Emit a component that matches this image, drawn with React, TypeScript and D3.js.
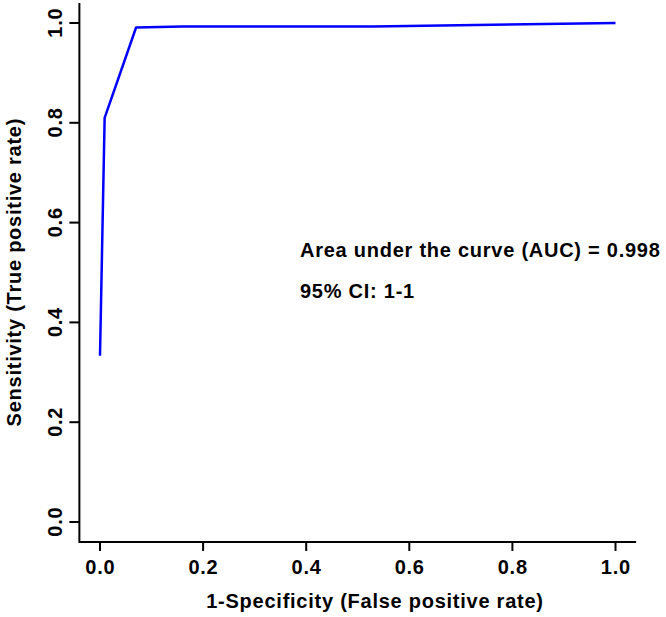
import React from "react";
import * as d3 from "d3";

const fprValues = [0, 0.009, 0.07, 0.16, 0.53, 1];
const tprValues = [0.333, 0.81, 0.991, 0.993, 0.993, 1];
const tickValues = [0, 0.2, 0.4, 0.6, 0.8, 1.0];
const aucLabel = "Area under the curve (AUC) = 0.998";
const ciLabel = "95% CI: 1-1";
const xTitle = "1-Specificity (False positive rate)";
const yTitle = "Sensitivity (True positive rate)";

const W = 666;
const H = 617;
const FONT = "'Liberation Sans', Arial, Helvetica, sans-serif";
const FS = 20;
const LS = 0.75;

export default function App() {
  const x = d3.scaleLinear().domain([0, 1]).range([100, 615.5]);
  const y = d3.scaleLinear().domain([0, 1]).range([522, 23]);
  const pts = fprValues.map((f, i) => [f, tprValues[i]] as [number, number]);
  const line = d3
    .line<[number, number]>()
    .x((d) => x(d[0]))
    .y((d) => y(d[1]));

  const x0 = x(-0.04);
  const x1 = x(1.04);
  const y0 = y(-0.04);
  const y1 = y(1.04);
  const fmt = d3.format(".1f");

  return (
    <svg
      width={W}
      height={H}
      style={{ position: "absolute", left: 0, top: 0, background: "#fff" }}
      fontFamily={FONT}
      fontWeight="bold"
      letterSpacing={LS}
    >
      {/* L-shaped box */}
      <path
        d={`M${x0},${y1}V${y0}H${x1}`}
        fill="none"
        stroke="#000"
        strokeWidth={2}
      />
      {/* x ticks */}
      {tickValues.map((t) => (
        <g key={"x" + t}>
          <line x1={x(t)} x2={x(t)} y1={y0} y2={y0 + 9} stroke="#000" strokeWidth={2} />
          <text x={x(t) + LS / 2} y={574} textAnchor="middle" fontSize={FS}>
            {fmt(t)}
          </text>
        </g>
      ))}
      {/* y ticks */}
      {tickValues.map((t) => (
        <g key={"y" + t}>
          <line x1={x0 - 10} x2={x0} y1={y(t)} y2={y(t)} stroke="#000" strokeWidth={2} />
          <text
            transform={`translate(62,${y(t) - LS / 2}) rotate(-90)`}
            textAnchor="middle"
            fontSize={FS}
          >
            {fmt(t)}
          </text>
        </g>
      ))}
      {/* ROC curve */}
      <path
        d={line(pts) || ""}
        fill="none"
        stroke="#0000ff"
        strokeWidth={2.5}
        strokeLinejoin="round"
      />
      {/* annotations */}
      <text x={300} y={257} fontSize={FS}>
        {aucLabel}
      </text>
      <text x={300} y={298} fontSize={FS}>
        {ciLabel}
      </text>
      {/* axis titles */}
      <text x={375} y={608} textAnchor="middle" fontSize={FS}>
        {xTitle}
      </text>
      <text
        transform={`translate(21,${(y(0) + y(1)) / 2 - LS / 2}) rotate(-90)`}
        textAnchor="middle"
        fontSize={FS}
      >
        {yTitle}
      </text>
    </svg>
  );
}
